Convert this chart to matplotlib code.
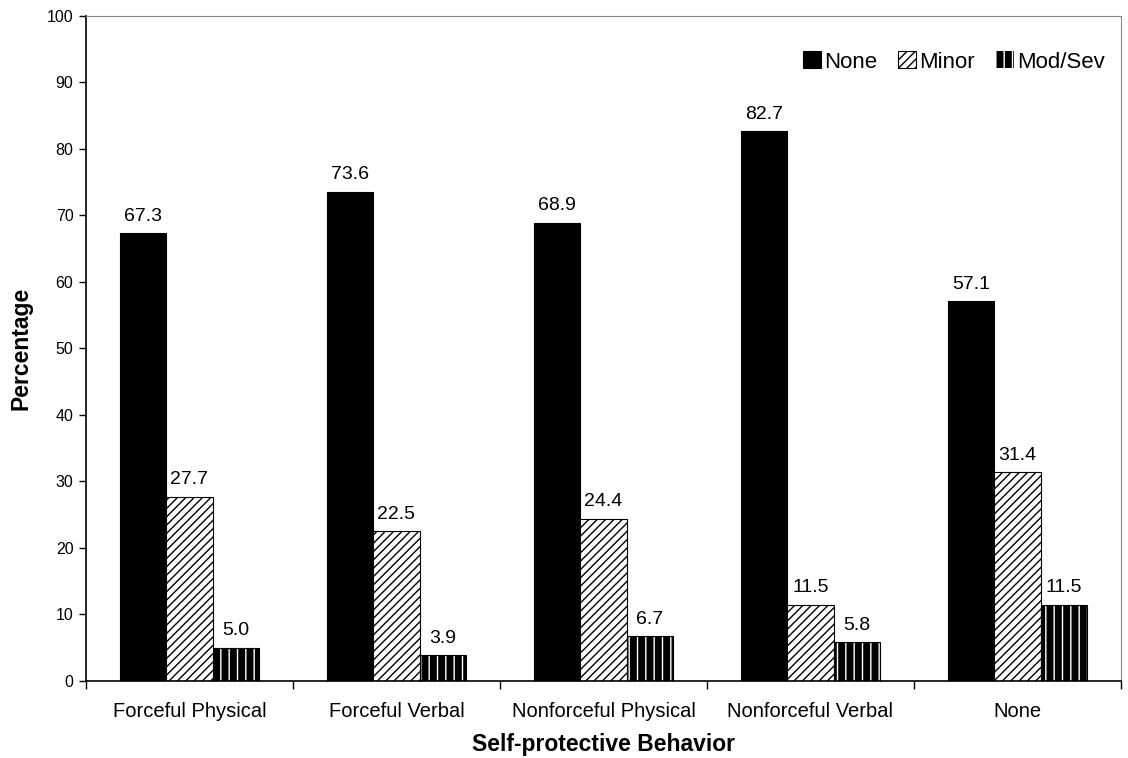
import matplotlib.pyplot as plt
import numpy as np

plt.rcParams['font.family'] = ['Liberation Sans', 'DejaVu Sans']
plt.rcParams['hatch.linewidth'] = 1.0

behaviors = ['Forceful Physical', 'Forceful Verbal', 'Nonforceful Physical',
             'Nonforceful Verbal', 'None']
none_inj = [67.3, 73.6, 68.9, 82.7, 57.1]
minor_inj = [27.7, 22.5, 24.4, 11.5, 31.4]
modsev_inj = [5.0, 3.9, 6.7, 5.8, 11.5]

fig = plt.figure(figsize=(11.28, 7.58), dpi=100)
ax = fig.add_axes([0.0762, 0.1016, 0.9176, 0.8773])

x = np.arange(len(behaviors))
w = 0.223

b1 = ax.bar(x - w, none_inj, w, color='black', edgecolor='black', linewidth=0.8,
            label='None')
b2 = ax.bar(x, minor_inj, w, color='white', edgecolor='black', hatch='////',
            linewidth=0.8, label='Minor')
# vertical stripes: white hatch on black, then a black outline on top
b3 = ax.bar(x + w, modsev_inj, w, color='black', edgecolor='white', hatch='||',
            linewidth=0, label='Mod/Sev')
ax.bar(x + w, modsev_inj, w, fill=False, edgecolor='black', linewidth=0.8)

for bars, vals in [(b1, none_inj), (b2, minor_inj), (b3, modsev_inj)]:
    for r, v in zip(bars, vals):
        ax.annotate(f'{v:.1f}', (r.get_x() + r.get_width() / 2, v),
                    xytext=(0, 6), textcoords='offset points',
                    ha='center', va='bottom', fontsize=14)

ax.set_xlim(-0.5, 4.5)
ax.set_ylim(0, 100)
ax.set_yticks(range(0, 101, 10))
ax.set_xticks(np.arange(-0.5, 5, 1))
ax.set_xticklabels([])
ax.set_xticks(x, minor=True)
ax.set_xticklabels(behaviors, minor=True, fontsize=14.5)
ax.tick_params(axis='x', which='minor', length=0, pad=15)
ax.tick_params(axis='x', which='major', length=6, width=1, direction='out')
ax.tick_params(axis='y', length=5, width=1, labelsize=11.5, pad=4)

for s in ['top', 'right']:
    ax.spines[s].set_color('#888888')
ax.spines['left'].set_linewidth(1.2)
ax.spines['bottom'].set_linewidth(1.2)

ax.set_xlabel('Self-protective Behavior', fontsize=16.5, fontweight='bold', labelpad=9)
ax.set_ylabel('Percentage', fontsize=16.5, fontweight='bold', labelpad=10)

ax.legend(handles=[b1, b2, b3], loc='center right', ncol=3, frameon=False,
          fontsize=16, bbox_to_anchor=(0.9845, 0.9308), borderaxespad=0,
          borderpad=0, handlelength=0.8, handleheight=0.8, handletextpad=0.15,
          columnspacing=0.95)

fig.savefig('out.png', dpi=100)
